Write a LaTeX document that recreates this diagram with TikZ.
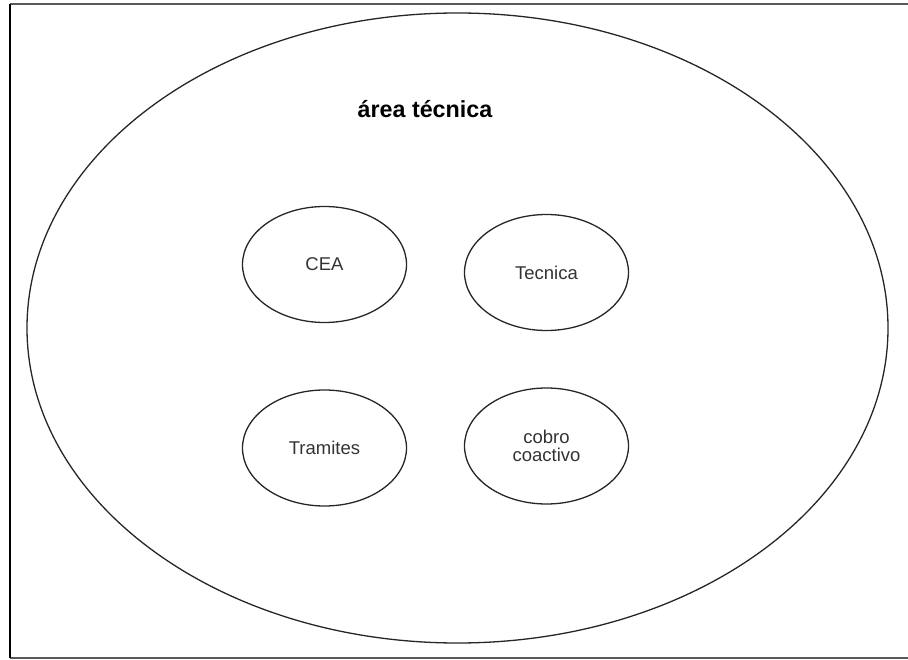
\documentclass[tikz,border=0pt]{standalone}
\usepackage{fontspec}
\setmainfont{Liberation Sans}
\usetikzlibrary{shapes.geometric}
\begin{document}
\begin{tikzpicture}[x=1pt,y=-1pt,
  area/.style={draw=black!85,line width=1.3pt,ellipse,inner sep=0pt},
  unit/.style={draw=black!85,line width=1.3pt,ellipse,inner sep=0pt,
    minimum width=164pt,minimum height=116pt,font=\fontsize{18.5}{20}\selectfont,
    align=center,text=black!80},
  frameline/.style={line width=1.5pt}]
\useasboundingbox (0,0) rectangle (908,660);
% window frame
\coordinate (ftl) at (10,4);
\coordinate (ftr) at (908,4);
\coordinate (fbl) at (10,658);
\coordinate (fbr) at (908,658);
\draw[frameline,draw=black!65] (ftl) -- (ftr);
\draw[frameline,draw=black!65] (fbl) -- (fbr);
\draw[line width=2pt,draw=black] (ftl) -- (fbl);
% outer area
\node[area,minimum width=861pt,minimum height=630pt] (outer) at (457.5,328) {};
\node[anchor=base,font=\bfseries\fontsize{23.3}{26}\selectfont] (title) at (425,118) {área técnica};
% units
\node[unit] (cea) at (324.5,264.5) {CEA};
\node[unit] (tec) at (546.5,272.5) {Tecnica};
\node[unit] (tra) at (324.5,448) {Tramites};
\node[unit] (cob) at (546.5,446) {cobro\\[-2pt]coactivo};
\end{tikzpicture}
\end{document}
